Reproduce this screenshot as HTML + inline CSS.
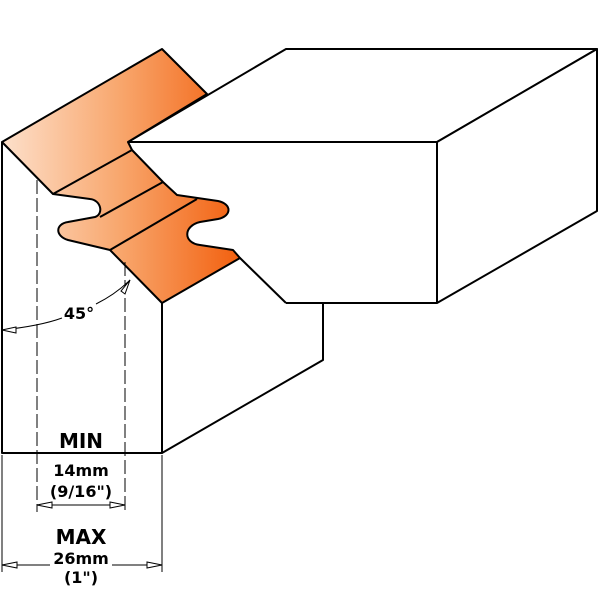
<!DOCTYPE html>
<html><head><meta charset="utf-8"><style>
html,body{margin:0;padding:0;background:#fff;width:600px;height:600px;overflow:hidden}
svg{display:block}
text{font-family:"DejaVu Sans","Liberation Sans",sans-serif;font-weight:bold;fill:#000;text-anchor:middle}
</style></head><body>
<svg width="600" height="600" viewBox="0 0 600 600" xmlns="http://www.w3.org/2000/svg">
<defs>
<linearGradient id="g" x1="0" y1="0" x2="1" y2="0" gradientUnits="objectBoundingBox">
<stop offset="0" stop-color="#fde0cb"/>
<stop offset="0.5" stop-color="#f8a66c"/>
<stop offset="1" stop-color="#f2600f"/>
</linearGradient>
</defs>
<g fill="none" stroke="#000" stroke-width="2" stroke-linejoin="round">
<polygon points="128,142 286,49 597,49 437,142" fill="#fff"/>
<polygon points="437,142 597,49 597,211 437,303" fill="#fff"/>
<polyline points="2,142 2,453 162,453 162,303"/>
<polyline points="162,453 323,360 323,303"/>
<line x1="286" y1="303" x2="437" y2="303"/>
<line x1="437" y1="142" x2="437" y2="303"/>
<line x1="240" y1="258" x2="286" y2="303"/>
<path fill="url(#g)" d="M2,142 L162,49 L207,94 L128,142 L132,150 L163,182 L177,195 L218,201 C232,204 232,216 218,219 L200,222 C183,226 183,243 200,245 L233,250 L240,258 L162,303 L110,250 L68,240 C55,236 55,224 68,222 L95,217 C104,214 101,200 90,199 L53,194 Z"/>
<line x1="53" y1="194" x2="132" y2="150"/>
<line x1="100" y1="217" x2="163" y2="182"/>
<line x1="110" y1="250" x2="197" y2="199"/>
<line x1="128" y1="142" x2="437" y2="142"/>
</g>
<g stroke="#000" stroke-width="1" fill="none">
<line x1="37" y1="180" x2="37" y2="512" stroke-dasharray="14,4"/>
<line x1="125" y1="262" x2="125" y2="512" stroke-dasharray="14,4"/>
<line x1="2" y1="455" x2="2" y2="572"/>
<line x1="162" y1="455" x2="162" y2="572"/>
<line x1="37" y1="505" x2="125" y2="505"/>
<line x1="2" y1="565" x2="50" y2="565"/>
<line x1="112" y1="565" x2="162" y2="565"/>
<path d="M2,330 Q40,326 62,318"/>
<path d="M96,304 Q116,294 130,280"/>
<polygon points="37,505 52,502 52,508" fill="#fff"/>
<polygon points="125,505 110,502 110,508" fill="#fff"/>
<polygon points="2,565 17,562 17,568" fill="#fff"/>
<polygon points="162,565 147,562 147,568" fill="#fff"/>
<polygon points="2,330 16,327 16,333" fill="#fff"/>
<polygon points="130,280 121,291 125,294" fill="#fff"/>
</g>
<text x="79" y="319" font-size="16">45°</text>
<text x="81" y="448" font-size="20">MIN</text>
<text x="81" y="476" font-size="16">14mm</text>
<text x="81" y="497" font-size="16">(9/16")</text>
<text x="81" y="544" font-size="20">MAX</text>
<text x="81" y="564" font-size="16">26mm</text>
<text x="81" y="583" font-size="16">(1")</text>
</svg>
</body></html>
